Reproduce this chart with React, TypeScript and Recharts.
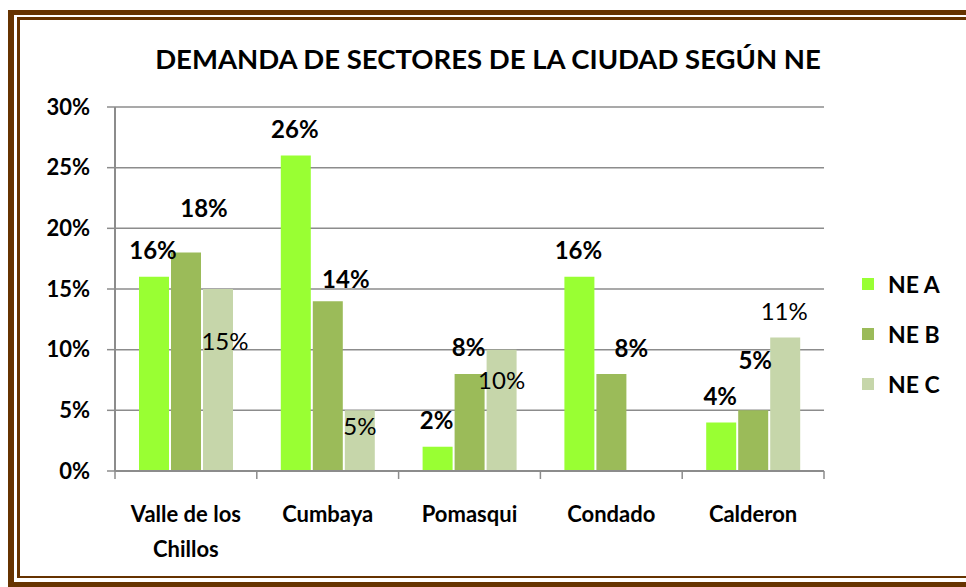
import { BarChart, Bar, XAxis, YAxis, CartesianGrid, LabelList } from "recharts"

const sectors = ["Valle de los Chillos", "Cumbaya", "Pomasqui", "Condado", "Calderon"]
const neA = [16, 26, 2, 16, 4]
const neB = [18, 14, 8, 8, 5]
const neC: (number | null)[] = [15, 5, 10, null, 11]
const yTicks = [0, 5, 10, 15, 20, 25, 30]

// how the long category name breaks in the source
const tickLines: Record<string, string[]> = {
	"Valle de los Chillos": ["Valle de los", "Chillos"],
}

const seriesNames = { A: "NE A", B: "NE B", C: "NE C" }
const colors = { A: "#99FF33", B: "#9BBB59", C: "#C6D6AA" }

const FONT = "Lato, 'Open Sans', sans-serif"
const GRID = "#8c8c8c"
const W = 966
const H = 587
const M = { top: 107, right: 142, left: 55, bottom: 0 }
const Y_W = 60
const X_TICK_OFF = 35 // tickSize + tickMargin on the category axis

// hand-placed label nudges (dx, dy from bar top centre), like the original sheet
const nudges: Record<string, Record<number, [number, number]>> = {
	A: {},
	B: { 0: [18, -45], 1: [18, -23], 3: [20, -26], 4: [2, -51] },
	C: { 0: [7, 51], 1: [0, 15], 2: [0, 30], 4: [0, -26] },
}

const data = sectors.map((name, i) => ({ name, A: neA[i], B: neB[i], C: neC[i] }))

const makeLabel = (key: string, bold: boolean) => (props: any) => {
	const { x, y, width, value, index } = props
	if (value == null) return null
	const [dx, dy] = nudges[key][index] ?? [-1, -27]
	return (
		<text
			x={Number(x) + Number(width) / 2 + dx}
			y={Number(y) + dy}
			textAnchor="middle"
			dominantBaseline="central"
			fontFamily={FONT}
			fontSize={24}
			fontWeight={bold ? 700 : 400}
			fill="#000"
		>
			{value}%
		</text>
	)
}

function SectorTick(props: any) {
	const { x, y, payload, index } = props
	const band = (W - M.left - M.right - Y_W) / sectors.length
	const axisY = y - X_TICK_OFF
	const lines = tickLines[payload.value] ?? [payload.value]
	return (
		<g>
			<line x1={x - band / 2} x2={x - band / 2} y1={axisY} y2={axisY + 8} stroke={GRID} strokeWidth={1.5} />
			{index === sectors.length - 1 && (
				<line x1={x + band / 2} x2={x + band / 2} y1={axisY} y2={axisY + 8} stroke={GRID} strokeWidth={1.5} />
			)}
			<text x={x} y={y + 7} textAnchor="middle" fontFamily={FONT} fontSize={22} fontWeight={700} fill="#000">
				{lines.map((l, i) => (
					<tspan key={i} x={x} dy={i === 0 ? 0 : 35} dominantBaseline="central">
						{l}
					</tspan>
				))}
			</text>
		</g>
	)
}

export default function App() {
	return (
		<div
			style={{
				position: "absolute",
				left: 0,
				top: 0,
				width: W,
				height: H,
				overflow: "hidden",
				background: "#fff",
			}}
		>
			{/* brown double frame, cut off on the right like the source */}
			<div
				style={{
					position: "absolute",
					left: 8,
					top: 10,
					width: 1100,
					height: 567,
					borderLeft: "6px solid #663300",
					borderTop: "5px solid #663300",
					borderBottom: "8px solid #663300",
				}}
			/>
			<div
				style={{
					position: "absolute",
					left: 17,
					top: 17,
					width: 1100,
					height: 556,
					borderLeft: "3px solid #663300",
					borderTop: "3px solid #663300",
					borderBottom: "2px solid #663300",
				}}
			/>
			<div
				style={{
					position: "absolute",
					left: 0,
					width: 976,
					top: 42,
					textAlign: "center",
					fontFamily: FONT,
					fontWeight: 700,
					fontSize: 27.5,
					color: "#000",
				}}
			>
				DEMANDA DE SECTORES DE LA CIUDAD SEGÚN NE
			</div>
			<div style={{ position: "absolute", left: 0, top: 0 }}>
				<BarChart width={W} height={H} data={data} margin={M} barSize={30} barGap={2}>
					<CartesianGrid vertical={false} stroke={GRID} strokeWidth={1.5} />
					<XAxis
						dataKey="name"
						height={116}
						axisLine={{ stroke: GRID, strokeWidth: 2 }}
						tickLine={false}
						tickSize={8}
						tickMargin={X_TICK_OFF - 8}
						interval={0}
						tick={<SectorTick />}
					/>
					<YAxis
						width={Y_W}
						domain={[0, 30]}
						ticks={yTicks}
						tickFormatter={(v: number) => `${v}%`}
						axisLine={{ stroke: GRID, strokeWidth: 2 }}
						tickLine={{ stroke: GRID, strokeWidth: 1.5 }}
						tickSize={8}
						tickMargin={17}
						tick={{ fontFamily: FONT, fontSize: 22, fontWeight: 700, fill: "#000" }}
					/>
					<Bar dataKey="A" name={seriesNames.A} fill={colors.A} isAnimationActive={false}>
						<LabelList dataKey="A" content={makeLabel("A", true)} />
					</Bar>
					<Bar dataKey="B" name={seriesNames.B} fill={colors.B} isAnimationActive={false}>
						<LabelList dataKey="B" content={makeLabel("B", true)} />
					</Bar>
					<Bar dataKey="C" name={seriesNames.C} fill={colors.C} isAnimationActive={false}>
						<LabelList dataKey="C" content={makeLabel("C", false)} />
					</Bar>
				</BarChart>
			</div>
			<div style={{ position: "absolute", left: 862, top: 259 }}>
				{(["A", "B", "C"] as const).map((k) => (
					<div
						key={k}
						style={{
							display: "flex",
							alignItems: "center",
							height: 50,
							fontFamily: FONT,
							fontWeight: 700,
							fontSize: 23,
						}}
					>
						<span style={{ width: 12, height: 12, background: colors[k], marginRight: 14 }} />
						{seriesNames[k]}
					</div>
				))}
			</div>
		</div>
	)
}
